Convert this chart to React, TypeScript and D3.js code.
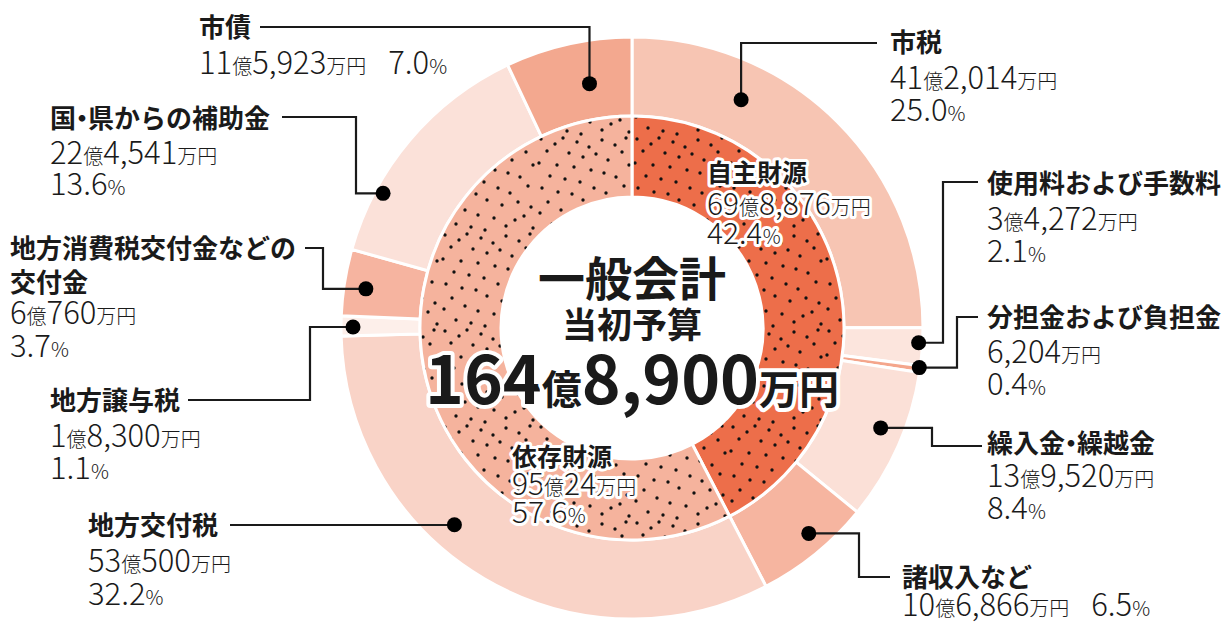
import * as d3 from "d3";

// ---- data (万円) ----
const groupNames = ["自主財源", "依存財源"];
const groupAmounts = [698876, 950024];
const groupShares = [42.4, 57.6];
const totalAmount = 1648900;

const itemNames = [
  "市税",
  "使用料および手数料",
  "分担金および負担金",
  "繰入金・繰越金",
  "諸収入など",
  "地方交付税",
  "地方譲与税",
  "地方消費税交付金などの交付金",
  "国・県からの補助金",
  "市債",
];
const itemAmounts = [412014, 34272, 6204, 139520, 106866, 530500, 18300, 60760, 224541, 115923];
const itemShares = [25.0, 2.1, 0.4, 8.4, 6.5, 32.2, 1.1, 3.7, 13.6, 7.0];

// ---- styles / layout ----
const W = 1228;
const H = 622;
const cx = 632;
const cy = 328;
const rHole = 131;
const rMid = 212;
const rOuter = 291;

const groupColors = ["#ed6e4a", "#f5b39d"];
const itemColors = [
  "#f7c5b3",
  "#fce5dd",
  "#f4a68c",
  "#fbe0d7",
  "#f6b5a0",
  "#f9d3c7",
  "#fdefea",
  "#f6b4a0",
  "#fbe1d9",
  "#f3a88f",
];

// label placement: title baseline(s), value baselines, leader start, elbow, dot position in slice
const labelLayout = [
  { x: 890, y: [52], vals: [89, 121], start: [877, 43], t: 0.284, r: 253 },
  { x: 987, y: [193], vals: [230, 262], start: [978, 182], midX: 943, t: 0.4, r: 287 },
  { x: 987, y: [327], vals: [363, 395], start: [978, 317], midX: 957, t: 0.3, r: 290 },
  { x: 987, y: [453], vals: [487, 519], start: [982, 446], midX: 932, t: 0.43, r: 268 },
  { x: 902, y: [587], inline: 616, start: [890, 577], midX: 859, t: 0.43, r: 271 },
  { x: 88, y: [535], vals: [572, 605], start: [230, 525], t: 0.6, r: 265 },
  { x: 50, y: [410], vals: [447, 479], start: [188, 400], midX: 310, t: 0.45, r: 279 },
  { x: 10, y: [258, 292], wrap: 11, vals: [324, 357], start: [305, 248], midX: 323, t: 0.45, r: 269 },
  { x: 50, y: [128], vals: [164, 195], start: [282, 117], midX: 356, t: 0.26, r: 283 },
  { x: 199, y: [37], inline: 74, start: [260, 27], t: 0.61, r: 248 },
];

const FONT = "'Noto Sans CJK JP', 'Noto Sans', sans-serif";
const INK = "#1a1a1a";

// stipple texture tile (96x96)
const stipple = [
  [5, 3], [19, 8], [27, 2], [41, 6], [53, 11], [66, 4], [79, 9], [90, 2],
  [11, 15], [33, 17], [47, 21], [60, 18], [72, 24], [86, 16],
  [3, 27], [21, 29], [38, 31], [55, 34], [68, 37], [93, 29],
  [14, 40], [29, 43], [44, 46], [80, 41], [88, 50],
  [6, 52], [22, 56], [36, 58], [58, 52], [70, 57],
  [12, 66], [47, 64], [62, 69], [78, 66], [91, 71],
  [4, 77], [25, 74], [38, 79], [54, 82], [84, 80],
  [16, 88], [31, 91], [45, 94], [66, 90], [75, 84], [93, 92],
];

const splitRe = /[0-9,.]+|[^0-9,.]+/g;

function fmtAmount(v: number) {
  const oku = Math.floor(v / 10000);
  const man = v % 10000;
  const f = d3.format(",");
  return (oku > 0 ? `${oku}億` : "") + `${f(man)}万円`;
}

function Rich({ x, y, text, big, small, weight = 400, halo = false }: any) {
  const parts = text.match(splitRe) || [];
  return (
    <text
      x={x}
      y={y}
      fontWeight={weight}
      fill={INK}
      stroke={halo ? "#fff" : "none"}
      strokeWidth={halo ? 6 : 0}
      strokeLinejoin="round"
      paintOrder="stroke"
    >
      {parts.map((p: string, i: number) => (
        <tspan key={i} fontSize={/[0-9]/.test(p) ? big : small}>
          {p}
        </tspan>
      ))}
    </text>
  );
}

// title with a tighter middle dot
function Title({ x, y, text }: any) {
  const bits = text.split("・");
  return (
    <text x={x} y={y} fontSize={26} fontWeight={700} fill={INK}>
      {bits.map((b: string, i: number) =>
        i === 0 ? (
          <tspan key={i}>{b}</tspan>
        ) : (
          <tspan key={i}>
            <tspan dx={-7}>・</tspan>
            <tspan dx={-7}>{b}</tspan>
          </tspan>
        )
      )}
    </text>
  );
}

export default function App() {
  const pieItems = d3.pie<number>().sort(null).value((d) => d)(itemAmounts);
  const pieGroups = d3.pie<number>().sort(null).value((d) => d)(groupAmounts);
  const arcOuter = d3.arc<any>().innerRadius(rMid).outerRadius(rOuter);
  const arcInner = d3.arc<any>().innerRadius(rHole).outerRadius(rMid);

  const dots = pieItems.map((a, i) => {
    const L = labelLayout[i];
    const ang = a.startAngle + (a.endAngle - a.startAngle) * L.t;
    return [cx + L.r * Math.sin(ang), cy - L.r * Math.cos(ang)];
  });

  return (
    <svg
      width={W}
      height={H}
      viewBox={`0 0 ${W} ${H}`}
      style={{ position: "absolute", left: 0, top: 0, background: "#fff" }}
      fontFamily={FONT}
    >
      <defs>
        <pattern id="dots" width={96} height={96} patternUnits="userSpaceOnUse">
          {stipple.map(([x, y], i) => (
            <circle key={i} cx={x} cy={y} r={1.7} fill="#111" />
          ))}
        </pattern>
      </defs>

      <g transform={`translate(${cx},${cy})`}>
        {pieItems.map((a, i) => (
          <path key={i} d={arcOuter(a) as string} fill={itemColors[i]} stroke="#fff" strokeWidth={3} />
        ))}
        {pieGroups.map((a, i) => (
          <g key={i}>
            <path d={arcInner(a) as string} fill={groupColors[i]} />
            <path d={arcInner(a) as string} fill="url(#dots)" stroke="#fff" strokeWidth={3} />
          </g>
        ))}
      </g>

      {/* leaders */}
      {labelLayout.map((L, i) => {
        const [dx, dy] = dots[i];
        const [sx, sy] = L.start;
        const d =
          L.midX !== undefined
            ? `M${sx},${sy}H${L.midX}V${dy}H${dx}`
            : `M${sx},${sy}H${dx}V${dy}`;
        return (
          <g key={i}>
            <path d={d} fill="none" stroke={INK} strokeWidth={2.2} />
            <circle cx={dx} cy={dy} r={7.5} fill="#000" />
          </g>
        );
      })}

      {/* outer labels */}
      {labelLayout.map((L, i) => {
        const name = itemNames[i];
        const lines = L.wrap ? [name.slice(0, L.wrap), name.slice(L.wrap)] : [name];
        const amt = fmtAmount(itemAmounts[i]);
        const pct = `${itemShares[i].toFixed(1)}%`;
        return (
          <g key={i}>
            {lines.map((ln, k) => (
              <Title key={k} x={L.x} y={L.y[k]} text={ln} />
            ))}
            {L.inline !== undefined ? (
              <text x={L.x} y={L.inline} fill={INK} fontWeight={300}>
                {(amt.match(splitRe) || []).map((p, k) => (
                  <tspan key={k} fontSize={/[0-9]/.test(p) ? 31 : 20}>
                    {p}
                  </tspan>
                ))}
                <tspan dx={22} fontSize={31}>
                  {pct.replace("%", "")}
                </tspan>
                <tspan fontSize={20}>%</tspan>
              </text>
            ) : (
              <>
                <Rich x={L.x} y={L.vals![0]} text={amt} big={31} small={20} weight={300} />
                <Rich x={L.x} y={L.vals![1]} text={pct} big={31} small={20} weight={300} />
              </>
            )}
          </g>
        );
      })}

      {/* inner labels */}
      {[
        { x: 707, y: [182, 215, 244] },
        { x: 512, y: [466, 495, 523] },
      ].map((L, i) => (
        <g key={i}>
          <text
            x={L.x}
            y={L.y[0]}
            fontSize={25}
            fontWeight={700}
            fill={INK}
            stroke="#fff"
            strokeWidth={6}
            strokeLinejoin="round"
            paintOrder="stroke"
          >
            {groupNames[i]}
          </text>
          <Rich x={L.x} y={L.y[1]} text={fmtAmount(groupAmounts[i])} big={30} small={20} weight={300} halo />
          <Rich x={L.x} y={L.y[2]} text={`${groupShares[i].toFixed(1)}%`} big={30} small={20} weight={300} halo />
        </g>
      ))}

      {/* center */}
      <text x={cx} y={296} textAnchor="middle" fontSize={47} fontWeight={700} fill={INK}>
        一般会計
      </text>
      <text x={cx} y={338} textAnchor="middle" fontSize={35} fontWeight={700} fill={INK}>
        当初予算
      </text>
      <text
        x={cx}
        y={404}
        textAnchor="middle"
        fontWeight={700}
        fill={INK}
        stroke="#fff"
        strokeWidth={8}
        strokeLinejoin="round"
        paintOrder="stroke"
      >
        {(fmtAmount(totalAmount).match(splitRe) || []).map((p, k) => (
          <tspan key={k} fontSize={/[0-9]/.test(p) ? 66 : 40}>
            {p}
          </tspan>
        ))}
      </text>
    </svg>
  );
}
